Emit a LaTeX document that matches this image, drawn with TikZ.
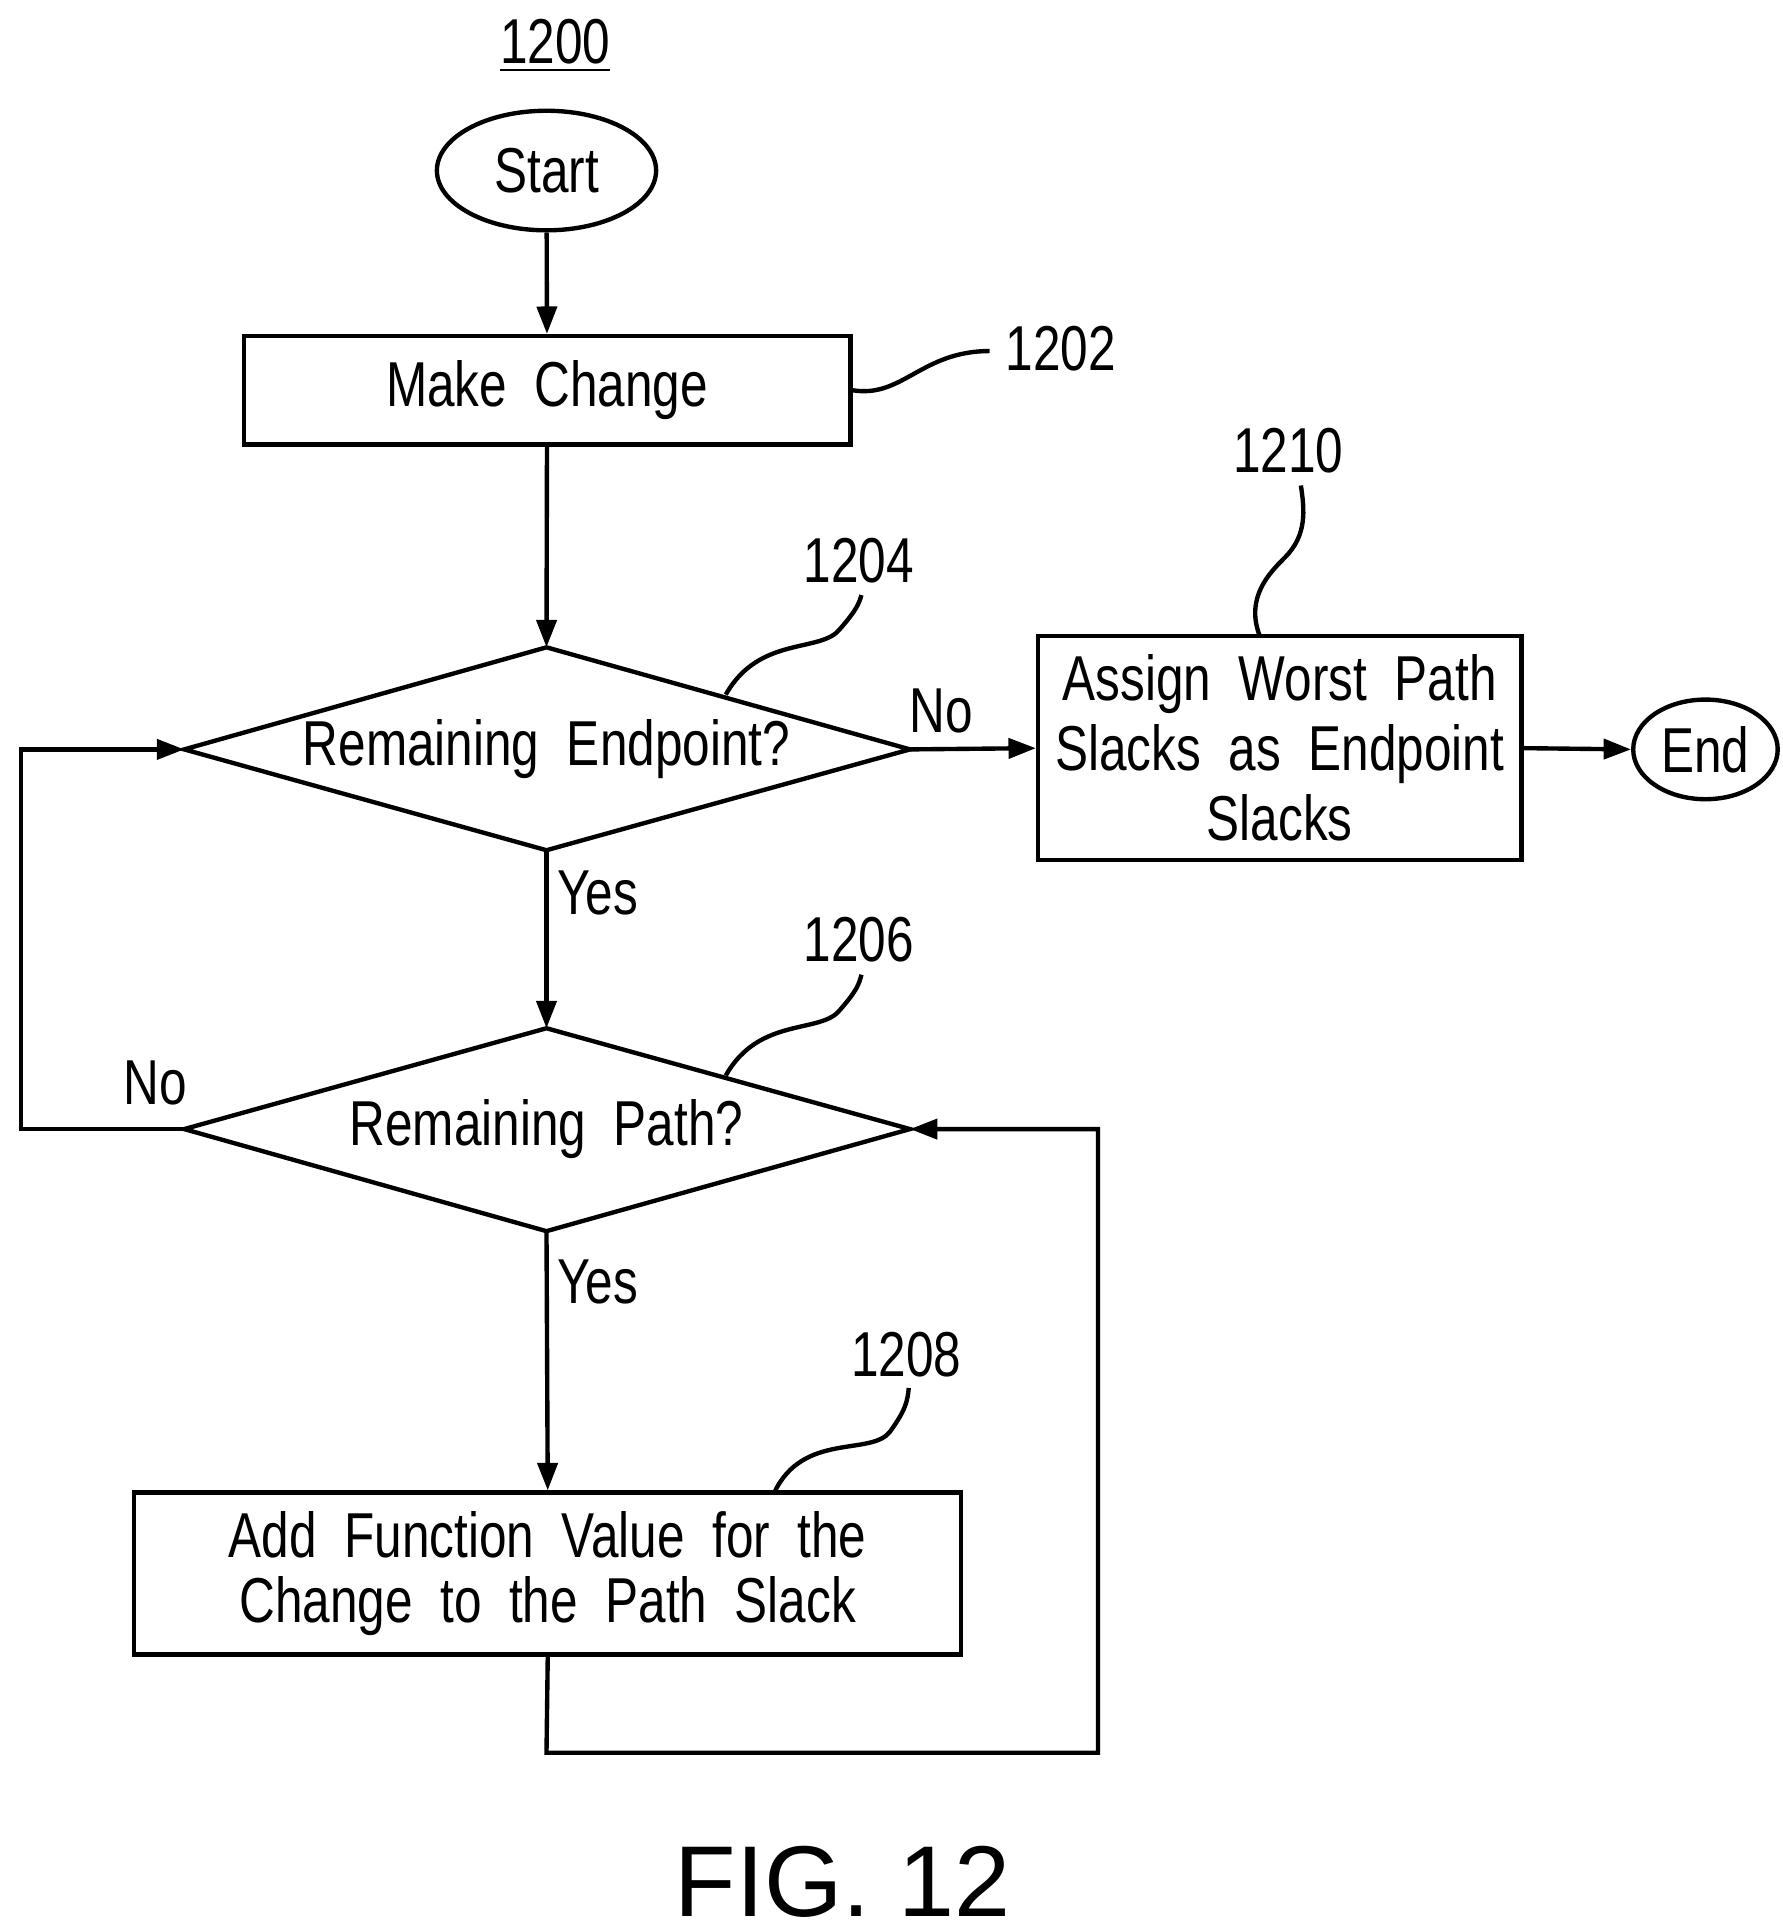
\documentclass[tikz,border=0pt]{standalone}
\usepackage{fontspec}
\setmainfont{Liberation Sans}
\usetikzlibrary{shapes.geometric,arrows.meta}
\newcommand{\nt}[1]{\scalebox{0.78}[1]{#1}}
\begin{document}
\begin{tikzpicture}[x=0.01cm,y=-0.01cm,
  every node/.style={font=\fontsize{14.5}{17}\selectfont},
  ln/.style={line width=1pt},
  arr/.style={ln,-{Triangle[length=0.22cm,width=0.16cm]}},
  box/.style={draw,ln,rectangle,inner sep=0pt},
  oval/.style={draw,ln,ellipse,inner sep=0pt},
  lbl/.style={inner sep=1pt}]
\useasboundingbox (0,0) rectangle (1432,1552);
\node[lbl] (t1200) at (446,37) {\nt{\underline{1200}}};
\node[oval,minimum width=1.76cm,minimum height=0.96cm] (start) at (439,137) {\nt{Start}};
\node[box,minimum width=4.87cm,minimum height=0.87cm] (make) at (439.5,313.5) {\nt{Make\ \ Change}};
\coordinate (d1n) at (439,520); \coordinate (d1w) at (148,602);
\coordinate (d1e) at (731,602); \coordinate (d1s) at (439,683);
\draw[ln] (d1n) -- (d1e) -- (d1s) -- (d1w) -- cycle;
\node (d1) at (439,602) {\nt{Remaining\ \ Endpoint?}};
\node[box,minimum width=3.88cm,minimum height=1.8cm,align=center] (assign) at (1028,601) {\nt{Assign\ \ Worst\ \ Path}\\[-1pt]\nt{Slacks\ \ as\ \ Endpoint}\\[-1pt]\nt{Slacks}};
\node[oval,minimum width=1.16cm,minimum height=0.8cm] (end) at (1370,602) {\nt{End}};
\coordinate (d2n) at (439,826); \coordinate (d2w) at (148,907);
\coordinate (d2e) at (731,907); \coordinate (d2s) at (439,989);
\draw[ln] (d2n) -- (d2e) -- (d2s) -- (d2w) -- cycle;
\node (d2) at (439,907) {\nt{Remaining\ \ Path?}};
\node[box,minimum width=6.64cm,minimum height=1.3cm,align=center] (add) at (440,1264) {\nt{Add\ \ Function\ \ Value\ \ for\ \ the}\\[-2pt]\nt{Change\ \ to\ \ the\ \ Path\ \ Slack}};
\node[lbl] (l1202) at (852,280) {\nt{1202}};
\node[lbl] (l1204) at (690,450) {\nt{1204}};
\node[lbl] (l1210) at (1035,362) {\nt{1210}};
\node[lbl] (l1206) at (690,755) {\nt{1206}};
\node[lbl] (l1208) at (728,1088) {\nt{1208}};
\node[lbl] (no1) at (756,571) {\nt{No}};
\node[lbl] (yes1) at (480,717) {\nt{Yes}};
\node[lbl] (no2) at (125,870) {\nt{No}};
\node[lbl] (yes2) at (480,1030) {\nt{Yes}};
\node[lbl] (fig) at (677,1512) {\fontsize{23}{26}\selectfont FIG. 12};
\coordinate (a1) at (17,907);
\coordinate (a2) at (17,602);
\coordinate (b1) at (439,1408);
\coordinate (b2) at (882,1408);
\coordinate (b3) at (882,907);
\draw[arr] (start) -- (make);
\draw[arr] (make) -- (d1n);
\draw[arr] (d1e) -- (assign.west);
\draw[arr] (assign.east) -- (end.west);
\draw[arr] (d1s) -- (d2n);
\draw[arr] (d2s) -- (add.north);
\draw[arr] (d2w) -- (a1) -- (a2) -- (d1w);
\draw[arr] (add.south) -- (b1) -- (b2) -- (b3) -- (d2e);
\draw[ln] (make.east) .. controls (725,320) and (740,282) .. (795,282);
\draw[ln] (583,558) .. controls (610,510) and (660,525) .. (675,505) .. controls (688,490) and (690,485) .. (692,478);
\draw[ln] (583,864) .. controls (610,816) and (660,831) .. (675,811) .. controls (688,796) and (690,791) .. (692,783);
\draw[ln] (622,1199) .. controls (645,1150) and (700,1170) .. (715,1150) .. controls (728,1132) and (729,1125) .. (730,1115);
\draw[ln] (1012,511) .. controls (1000,480) and (1020,460) .. (1032,448) .. controls (1050,430) and (1048,410) .. (1045,390);
\end{tikzpicture}
\end{document}
